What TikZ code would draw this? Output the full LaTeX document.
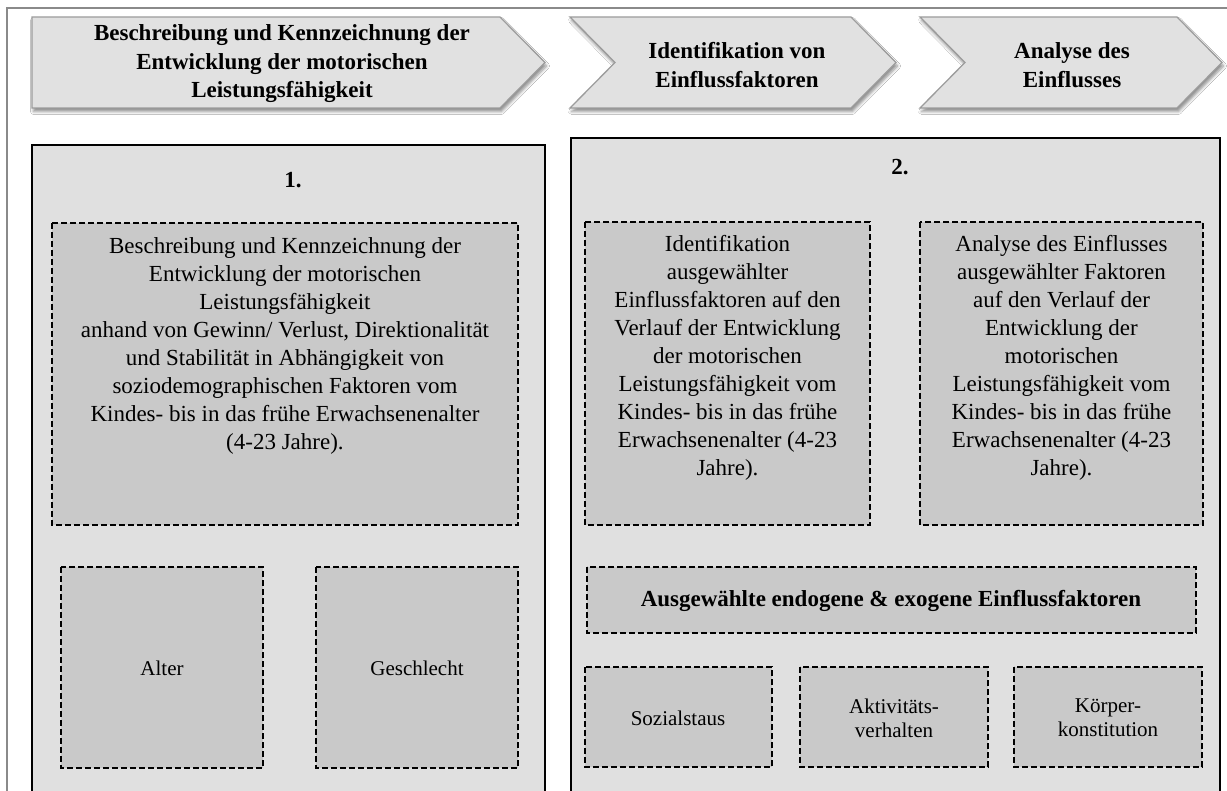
\documentclass[tikz,border=0pt]{standalone}
\usepackage{fontspec}
\setmainfont{Liberation Serif}
\usetikzlibrary{shadows.blur}
\definecolor{panelfill}{HTML}{E0E0E0}
\definecolor{boxfill}{HTML}{C9C9C9}
\definecolor{chevfill}{HTML}{E1E1E1}
\definecolor{chevline}{HTML}{9C9C9C}
\definecolor{framegray}{HTML}{8A8A8A}
\begin{document}
\begin{tikzpicture}[x=1pt,y=-1pt,
  panel/.style={fill=panelfill, draw=black, line width=2pt},
  dbox/.style={fill=boxfill, draw=black, line width=1.8pt, dash pattern=on 6pt off 3pt},
  chev/.style={fill=chevfill, draw=chevline, line width=1.3pt,
    blur shadow={shadow xshift=1.5pt, shadow yshift=-3.5pt, shadow blur radius=3pt, shadow opacity=45}},
  bodytext/.style={font=\fontsize{23}{28}\selectfont, align=center, inner sep=0pt},
  headtext/.style={font=\fontsize{23}{28.5}\selectfont\bfseries, align=center, inner sep=0pt},
  smalltext/.style={font=\fontsize{21}{24}\selectfont, align=center, inner sep=0pt}]
\useasboundingbox (0,0) rectangle (1227,791);
\clip (0,0) rectangle (1227,791);
\fill[white] (0,0) rectangle (1227,791);
% outer frame
\draw[framegray, line width=2pt] (7,8) rectangle (1260,830);
% chevrons
\path[chev] (32,17) -- (500,17) -- (545,62.5) -- (500,108) -- (32,108) -- cycle;
\path[chev] (570,17) -- (851,17) -- (896,62.5) -- (851,108) -- (570,108) -- (615,62.5) -- cycle;
\path[chev] (920,17) -- (1177,17) -- (1222,62.5) -- (1177,108) -- (920,108) -- (965,62.5) -- cycle;
\node[headtext] (c1) at (282,64) {Beschreibung und Kennzeichnung der\\Entwicklung der motorischen\\Leistungsfähigkeit};
\node[headtext] (c2) at (737,65) {Identifikation von\\Einflussfaktoren};
\node[headtext] (c3) at (1072,65) {Analyse des\\Einflusses};
% panels
\path[panel] (32,145) rectangle (545,830);
\path[panel] (571,138) rectangle (1220,830);
\node[headtext] (n1) at (293,180) {1.};
\node[headtext] (n2) at (900,167) {2.};
% panel 1 boxes
\path[dbox] (52,223) rectangle (518,525);
\node[bodytext] (ta) at (285,346) {Beschreibung und Kennzeichnung der\\Entwicklung der motorischen\\Leistungsfähigkeit\\anhand von Gewinn/ Verlust, Direktionalität\\und Stabilität in Abhängigkeit von\\soziodemographischen Faktoren vom\\Kindes- bis in das frühe Erwachsenenalter\\(4-23 Jahre).};
\path[dbox] (61,567) rectangle (263,768);
\node[smalltext] (alter) at (162,668) {Alter};
\path[dbox] (316,567) rectangle (518,768);
\node[smalltext] (geschlecht) at (417,668) {Geschlecht};
% panel 2 boxes
\path[dbox] (585,222) rectangle (870,525);
\node[bodytext] (tb) at (727.5,358) {Identifikation\\ausgewählter\\Einflussfaktoren auf den\\Verlauf der Entwicklung\\der motorischen\\Leistungsfähigkeit vom\\Kindes- bis in das frühe\\Erwachsenenalter (4-23\\Jahre).};
\path[dbox] (920,222) rectangle (1203,525);
\node[bodytext] (tc) at (1061.5,358) {Analyse des Einflusses\\ausgewählter Faktoren\\auf den Verlauf der\\Entwicklung der\\motorischen\\Leistungsfähigkeit vom\\Kindes- bis in das frühe\\Erwachsenenalter (4-23\\Jahre).};
\path[dbox] (587,567) rectangle (1196,633);
\node[headtext] (ausg) at (891,601) {Ausgewählte endogene \& exogene Einflussfaktoren};
\path[dbox] (585,667) rectangle (772,767);
\node[smalltext] (sozial) at (678,718) {Sozialstaus};
\path[dbox] (800,667) rectangle (988,767);
\node[smalltext] (aktiv) at (894,718) {Aktivitäts-\\verhalten};
\path[dbox] (1014,667) rectangle (1202,767);
\node[smalltext] (koerper) at (1108,718) {Körper-\\konstitution};
\end{tikzpicture}
\end{document}
